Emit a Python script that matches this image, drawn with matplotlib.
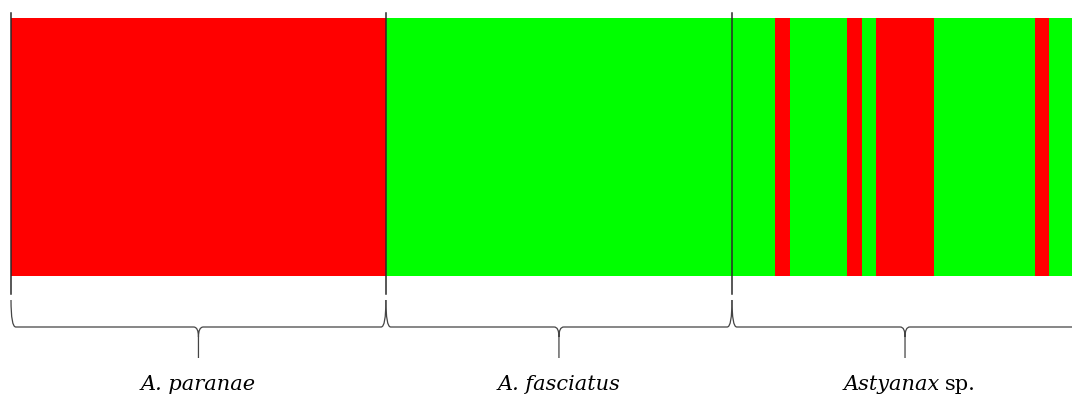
import matplotlib
matplotlib.use('Agg')
import matplotlib.pyplot as plt
from matplotlib.path import Path
from matplotlib.patches import PathPatch
import numpy as np

# STRUCTURE-style membership plot, K=2 (red / green)
groups = ['A. paranae', 'A. fasciatus', 'Astyanax']
group_sizes = [26, 24, 24]
# proportion of red cluster per individual
red_q = ([1.0] * 26
         + [0.0] * 24
         + [0, 0, 0, 1, 0, 0, 0, 0, 1, 0, 1, 1, 1, 1, 0, 0, 0, 0, 0, 0, 0, 1, 0, 0])

RED = '#ff0000'
GREEN = '#00ff00'
LINE = '#444444'

# vertical layout (in pixels from top)
bar_top, bar_h = 18, 258
div_top, div_bot = 13, 294
br_top, br_mid, br_tip = 300, 327, 358
label_y = 390


def brace(ax, a, b, r=0.33, color=LINE):
	# curly brace under the span a..b, opening upward
	m = (a + b) / 2.0
	verts = [(a, br_top), (a, br_mid), (a + r, br_mid), (m - r, br_mid),
	         (m, br_mid), (m, br_mid + 10), (m, br_tip),
	         (m, br_mid + 10), (m, br_mid), (m + r, br_mid), (b - r, br_mid),
	         (b, br_mid), (b, br_top)]
	codes = [Path.MOVETO, Path.CURVE3, Path.CURVE3, Path.LINETO,
	         Path.CURVE3, Path.CURVE3, Path.LINETO,
	         Path.MOVETO, Path.CURVE3, Path.CURVE3, Path.LINETO,
	         Path.CURVE3, Path.CURVE3]
	ax.add_patch(PathPatch(Path(verts, codes), fc='none', ec=color, lw=0.9))
	return m


fig = plt.figure(figsize=(10.72, 3.96), dpi=100)
ax = fig.add_axes([0, 0, 1, 1])
ax.axis('off')

q = np.array(red_q)
idx = np.arange(len(q))
ax.bar(idx, q * bar_h, width=1.0, bottom=bar_top, align='edge',
       color=RED, linewidth=0, antialiased=False)
ax.bar(idx, (1 - q) * bar_h, width=1.0, bottom=bar_top + q * bar_h, align='edge',
       color=GREEN, linewidth=0, antialiased=False)

starts = np.concatenate([[0], np.cumsum(group_sizes)[:-1]])
for s in starts:
	ax.plot([s, s], [div_top, div_bot], color='#2a2a2a', lw=1.1)

mids = []
for s, n in zip(starts, group_sizes):
	mids.append(brace(ax, s, s + n))

font = ['DejaVu Serif']
fs = 15
ax.text(mids[0], label_y, groups[0], ha='center', va='baseline',
        fontsize=fs, family=font, style='italic')
ax.text(mids[1], label_y, groups[1], ha='center', va='baseline',
        fontsize=fs, family=font, style='italic')
ax.annotate(groups[2], xy=(mids[2], label_y), xytext=(25, 0),
            textcoords='offset points', ha='right', va='baseline',
            fontsize=fs, family=font, style='italic')
ax.annotate('sp.', xy=(mids[2], label_y), xytext=(29, 0),
            textcoords='offset points', ha='left', va='baseline',
            fontsize=fs, family=font)

ax.set_xlim(-0.763, 73.58)
ax.set_ylim(396, 0)

fig.savefig('out.png', dpi=100)
